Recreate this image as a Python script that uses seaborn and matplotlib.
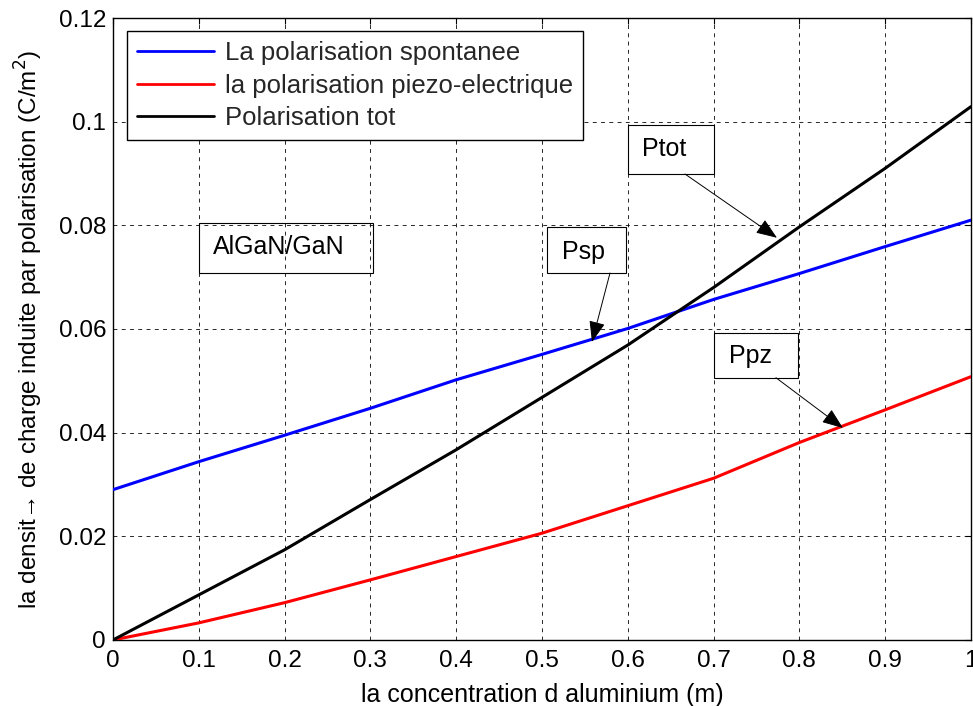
import numpy as np
import pandas as pd
import seaborn as sns
import matplotlib.pyplot as plt
from matplotlib.patches import Rectangle

# concentration d'aluminium
x_al = [0.0, 0.1, 0.2, 0.3, 0.4, 0.5, 0.6, 0.7, 0.8, 0.9, 1.0]
# valeurs (C/m^2)
p_sp = [0.0290, 0.0344, 0.0395, 0.0447, 0.0502, 0.0551, 0.0601, 0.0657, 0.0707, 0.0759, 0.0810]
p_pz = [0.0000, 0.0033, 0.0072, 0.0116, 0.0161, 0.0206, 0.0259, 0.0312, 0.0381, 0.0444, 0.0508]
p_tot = [0.0000, 0.0087, 0.0174, 0.0271, 0.0367, 0.0468, 0.0569, 0.0680, 0.0797, 0.0910, 0.1029]

labels = ['La polarisation spontanee', 'la polarisation piezo-electrique', 'Polarisation tot']
colors = ['#0000ff', '#ff0000', '#000000']

xticks = [0, 0.1, 0.2, 0.3, 0.4, 0.5, 0.6, 0.7, 0.8, 0.9, 1]
xticklabels = ['0', '0.1', '0.2', '0.3', '0.4', '0.5', '0.6', '0.7', '0.8', '0.9', '1']
yticks = [0, 0.02, 0.04, 0.06, 0.08, 0.1, 0.12]
yticklabels = ['0', '0.02', '0.04', '0.06', '0.08', '0.1', '0.12']

df = pd.DataFrame({'x': x_al * 3,
                   'y': p_sp + p_pz + p_tot,
                   'serie': [labels[0]] * len(x_al) + [labels[1]] * len(x_al) + [labels[2]] * len(x_al)})

sns.set_theme(style='white')
plt.rcParams['font.family'] = ['Liberation Sans', 'DejaVu Sans']

fig = plt.figure(figsize=(9.73, 7.06), dpi=100)
ax = fig.add_axes([0.1161, 0.0935, 0.8818, 0.881])

sns.lineplot(data=df, x='x', y='y', hue='serie', hue_order=labels,
             palette=colors, linewidth=2.2, ax=ax, legend=False, zorder=3)

ax.set_xlim(0, 1)
ax.set_ylim(0, 0.12)
ax.set_xticks(xticks)
ax.set_xticklabels(xticklabels)
ax.set_yticks(yticks)
ax.set_yticklabels(yticklabels)
ax.tick_params(direction='in', length=4.5, width=0.8, color='black',
               top=True, right=True, labelsize=17.5, labelcolor='black')
ax.tick_params(axis='x', pad=7)
ax.tick_params(axis='y', pad=5)
for s in ax.spines.values():
    s.set_color('black')
    s.set_linewidth(1.0)
ax.grid(True, color='black', linestyle=(0, (4, 4.5)), linewidth=0.7, alpha=0.85)

ax.set_xlabel('la concentration d aluminium (m)', fontsize=18, color='black', labelpad=8)
ax.set_ylabel('la densit\u2192 de charge induite par polarisation (C/m$^2$)',
              fontsize=17.5, color='black', labelpad=10)

handles = [plt.Line2D([], [], color=c, lw=2.0) for c in colors]
leg = ax.legend(handles, labels, loc='upper left', bbox_to_anchor=(0.0163, 0.979),
                borderaxespad=0, fontsize=18.5, frameon=True, fancybox=False,
                handlelength=3.0, handletextpad=0.45, labelspacing=0.34, borderpad=0.38)
leg.get_frame().set_edgecolor('black')
leg.get_frame().set_linewidth(1.0)
leg.get_frame().set_alpha(1)

# boites de texte (x0, x1, y0, y1), position du texte, fleche (queue -> pointe)
boxes = [
    ('AlGaN/GaN', (0.1002, 0.3030, 0.0708, 0.0805), (0.1166, 0.0744), None),
    ('Psp', (0.5058, 0.5979, 0.0708, 0.0797), (0.5233, 0.0736), ((0.5793, 0.0708), (0.5583, 0.0575))),
    ('Ptot', (0.6002, 0.7005, 0.0899, 0.0994), (0.6166, 0.0934), ((0.6667, 0.0899), (0.7739, 0.0776))),
    ('Ppz', (0.7005, 0.7984, 0.0506, 0.0592), (0.7180, 0.0534), ((0.7727, 0.0506), (0.8508, 0.0409))),
]
for txt, (x0, x1, y0, y1), (tx, ty), arr in boxes:
    ax.add_patch(Rectangle((x0, y0), x1 - x0, y1 - y0, fill=False,
                           edgecolor='black', linewidth=0.8, zorder=4))
    ax.text(tx, ty, txt, fontsize=18, ha='left', va='baseline', color='black', zorder=5)
    if arr is not None:
        ax.annotate('', xy=arr[1], xytext=arr[0],
                    arrowprops=dict(arrowstyle='-|>,head_length=13,head_width=5',
                                    mutation_scale=1, color='black', lw=0.7,
                                    shrinkA=0, shrinkB=0),
                    zorder=6)

fig.savefig('out.png', dpi=100, facecolor='white')
